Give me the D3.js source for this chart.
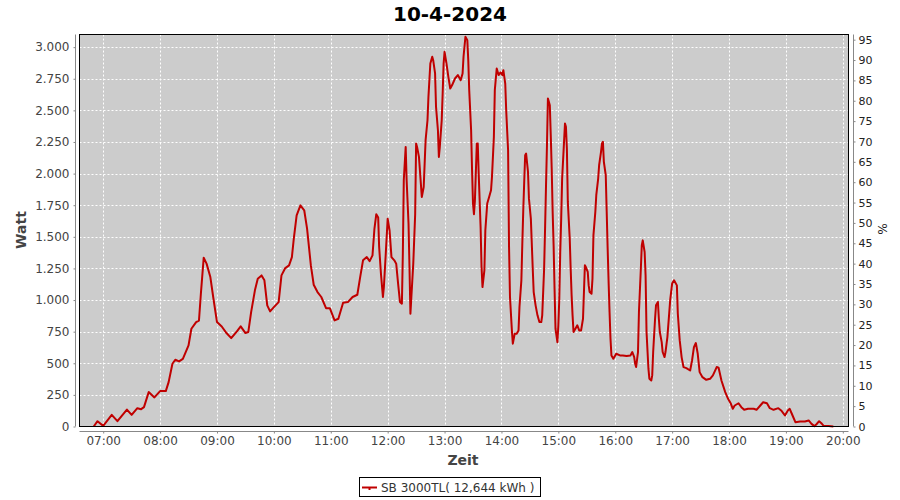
<!DOCTYPE html>
<html><head><meta charset="utf-8">
<script src="https://cdn.jsdelivr.net/npm/d3@7"></script>
<style>body{margin:0;background:#fff}svg{display:block}</style>
</head><body><svg id="c" width="900" height="500"></svg>
<script>
const title = "10-4-2024";
const day = "2024-04-10";
const times = ["06:50","06:54","07:00","07:09","07:15","07:25","07:30","07:36","07:40","07:43","07:48","07:54","08:00","08:06","08:09","08:13","08:16","08:20","08:24","08:30","08:33","08:38","08:41","08:43","08:46","08:49","08:53","08:56","09:00","09:05","09:10","09:15","09:21","09:25","09:30","09:33","09:36","09:40","09:43","09:47","09:50","09:53","09:56","10:00","10:05","10:08","10:12","10:16","10:19","10:21","10:24","10:28","10:32","10:35","10:39","10:42","10:46","10:50","10:55","10:59","11:04","11:08","11:13","11:18","11:23","11:28","11:31","11:34","11:38","11:41","11:44","11:46","11:48","11:50","11:51","11:53","11:55","11:56","11:58","12:00","12:02","12:04","12:07","12:09","12:11","12:13","12:15","12:16","12:17","12:19","12:20","12:22","12:23","12:24","12:25","12:27","12:29","12:30","12:31","12:33","12:35","12:36","12:38","12:39","12:40","12:42","12:43","12:44","12:45","12:47","12:48","12:50","12:51","12:53","12:54","12:55","12:57","12:58","12:59","13:00","13:02","13:04","13:06","13:08","13:11","13:14","13:17","13:19","13:20","13:22","13:24","13:25","13:26","13:28","13:29","13:30","13:31","13:32","13:34","13:35","13:36","13:38","13:39","13:40","13:42","13:43","13:45","13:47","13:49","13:50","13:52","13:53","13:55","13:57","13:59","14:01","14:02","14:04","14:05","14:07","14:08","14:09","14:11","14:12","14:14","14:16","14:18","14:19","14:21","14:22","14:23","14:24","14:25","14:26","14:28","14:29","14:31","14:33","14:34","14:36","14:38","14:40","14:42","14:43","14:45","14:46","14:47","14:48","14:49","14:50","14:51","14:52","14:53","14:54","14:55","14:56","14:57","14:59","15:00","15:01","15:02","15:03","15:04","15:06","15:07","15:08","15:09","15:10","15:12","15:13","15:14","15:15","15:16","15:18","15:20","15:22","15:24","15:26","15:27","15:28","15:29","15:31","15:32","15:33","15:35","15:36","15:37","15:39","15:40","15:42","15:43","15:45","15:46","15:47","15:48","15:50","15:51","15:52","15:53","15:54","15:55","15:56","15:58","16:00","16:01","16:05","16:08","16:12","16:16","16:18","16:20","16:21","16:22","16:24","16:25","16:27","16:28","16:29","16:31","16:32","16:33","16:35","16:36","16:38","16:39","16:40","16:42","16:43","16:45","16:46","16:47","16:49","16:50","16:52","16:53","16:55","16:57","16:58","17:00","17:02","17:05","17:06","17:08","17:10","17:12","17:15","17:19","17:21","17:23","17:25","17:27","17:29","17:32","17:36","17:40","17:43","17:47","17:49","17:52","17:56","17:59","18:02","18:04","18:06","18:10","18:13","18:16","18:20","18:26","18:29","18:33","18:36","18:40","18:43","18:47","18:52","18:55","18:59","19:02","19:04","19:07","19:10","19:15","19:20","19:24","19:27","19:30","19:32","19:35","19:38","19:40","19:45","19:50"];
const watts = [0,42,5,92,42,134,92,145,137,153,272,230,280,280,351,496,528,515,535,641,773,826,838,1050,1335,1288,1182,1024,826,791,739,699,752,792,739,747,905,1077,1169,1195,1156,958,910,944,984,1195,1253,1274,1340,1486,1670,1749,1710,1565,1274,1121,1063,1024,936,936,839,852,979,984,1024,1042,1182,1314,1340,1308,1353,1560,1679,1653,1420,1200,1024,1103,1367,1643,1551,1340,1314,1288,1130,984,971,1367,1947,2211,1947,1604,1261,892,1024,1288,1679,2238,2211,2132,1921,1815,1894,2079,2264,2422,2607,2739,2871,2924,2897,2792,2528,2343,2132,2211,2422,2634,2871,2963,2871,2765,2673,2700,2752,2779,2739,2792,2924,3082,3055,2897,2660,2343,2026,1763,1679,1785,2238,2238,2000,1578,1261,1103,1235,1551,1763,1815,1868,1974,2290,2660,2831,2779,2800,2779,2818,2712,2501,2185,1420,1024,760,655,734,734,760,945,1156,1446,1710,1934,2145,2158,2013,1802,1644,1248,1063,958,879,826,826,879,1248,1565,1908,2224,2594,2568,2541,2304,2040,1697,1433,1090,773,667,800,1011,1380,1644,1961,2251,2396,2370,2198,1776,1486,1248,1037,879,747,773,800,760,760,852,1063,1275,1261,1222,1116,1063,1050,1169,1512,1697,1829,1961,2066,2172,2238,2251,2093,1987,1697,1407,1142,905,694,562,536,562,575,562,562,557,562,589,549,496,470,589,905,1248,1433,1472,1380,1195,747,457,378,364,404,589,852,958,985,852,747,667,589,549,589,707,905,1003,1130,1156,1116,892,681,549,470,462,443,522,628,660,575,430,390,369,377,404,470,465,364,272,219,179,140,166,184,153,132,140,140,132,166,192,184,145,132,145,127,87,127,140,87,34,40,40,48,21,3,16,42,21,3,3,0];
const wattTicks = [0,250,500,750,1000,1250,1500,1750,2000,2250,2500,2750,3000];
const pctTicks = [0,5,10,15,20,25,30,35,40,45,50,55,60,65,70,75,80,85,90,95];
const hourTicks = ["07:00","08:00","09:00","10:00","11:00","12:00","13:00","14:00","15:00","16:00","17:00","18:00","19:00","20:00"];
const xDomain = ["06:35","20:06"];
const wattMax = 3100;
const ratedWatts = 3220;
const yLabel = "Watt", xLabel = "Zeit", y2Label = "%";
const legendLabel = "SB 3000TL( 12,644 kWh )";

const parse = d3.timeParse("%Y-%m-%d %H:%M");
const toDate = t => parse(day + " " + t);
const data = times.map((t, i) => ({t: toDate(t), v: watts[i]}));

const svg = d3.select("#c");
const P = {l: 79.5, r: 848.5, t: 34.5, b: 426.5};
const x = d3.scaleTime().domain(xDomain.map(toDate)).range([P.l, P.r]);
const y = d3.scaleLinear().domain([0, wattMax]).range([P.b, P.t]);
const y2 = d3.scaleLinear().domain([0, wattMax / ratedWatts * 100]).range([P.b, P.t]);
const loc = d3.formatLocale({decimal: ",", thousands: ".", grouping: [3], currency: ["", ""]});
const fmt = loc.format(",d");
const FONT = "'DejaVu Sans', sans-serif";

// title
svg.append("text").attr("x", 450).attr("y", 21).attr("text-anchor", "middle")
  .attr("font-family", FONT).attr("font-weight", "bold").attr("font-size", 20).attr("fill", "#000").text(title);

// plot background
svg.append("rect").attr("x", P.l).attr("y", P.t).attr("width", P.r - P.l).attr("height", P.b - P.t).attr("fill", "#cccccc");

// gridlines
const grid = svg.append("g").attr("stroke", "#fff").attr("stroke-width", 1).attr("stroke-dasharray", "2,2");
hourTicks.forEach(h => {
  const xx = Math.round(x(toDate(h))) + 0.5;
  grid.append("line").attr("x1", xx).attr("x2", xx).attr("y1", P.t).attr("y2", P.b);
});
wattTicks.forEach(w => {
  const yy = Math.round(y(w)) + 0.5;
  grid.append("line").attr("x1", P.l).attr("x2", P.r).attr("y1", yy).attr("y2", yy);
});

// line
const line = d3.line().x(d => x(d.t)).y(d => y(d.v));
svg.append("path").datum(data).attr("d", line).attr("fill", "none")
  .attr("stroke", "#c00000").attr("stroke-width", 2).attr("stroke-linejoin", "round");

// plot border
svg.append("rect").attr("x", P.l).attr("y", P.t).attr("width", P.r - P.l).attr("height", P.b - P.t)
  .attr("fill", "none").attr("stroke", "#000").attr("stroke-width", 1);

// left axis
const gL = svg.append("g").attr("transform", "translate(75.5,0)")
  .call(d3.axisLeft(y).tickValues(wattTicks).tickFormat(fmt).tickSize(2).tickPadding(4));
// bottom axis
const gB = svg.append("g").attr("transform", "translate(0,431.5)")
  .call(d3.axisBottom(x).tickValues(hourTicks.map(toDate)).tickFormat(d3.timeFormat("%H:%M")).tickSize(2).tickPadding(3));
// right axis
const gR = svg.append("g").attr("transform", "translate(853.5,0)")
  .call(d3.axisRight(y2).tickValues(pctTicks).tickFormat(d3.format("d")).tickSize(2).tickPadding(3));

[gL, gB, gR].forEach(g => {
  g.select(".domain").attr("stroke", "#888");
  g.selectAll(".tick line").attr("stroke", "#888");
  g.selectAll(".tick text").attr("font-family", FONT).attr("font-size", 12).attr("fill", "#444");
});
gL.select(".domain").attr("d", `M0,${P.b}V${P.t}`);
gB.select(".domain").attr("d", `M${P.l},0H${P.r}`);
gR.select(".domain").attr("d", `M0,${P.b}V${P.t}`);
gR.selectAll(".tick text").attr("font-size", 11).attr("fill", "#222");

// axis labels
svg.append("text").attr("transform", "translate(26,230) rotate(-90)").attr("text-anchor", "middle")
  .attr("font-family", FONT).attr("font-weight", "bold").attr("font-size", 14).attr("fill", "#444").text(yLabel);
svg.append("text").attr("x", 463).attr("y", 465).attr("text-anchor", "middle")
  .attr("font-family", FONT).attr("font-weight", "bold").attr("font-size", 14).attr("fill", "#444").text(xLabel);
svg.append("text").attr("transform", "translate(878,229) rotate(90)").attr("text-anchor", "middle")
  .attr("font-family", FONT).attr("font-size", 12).attr("fill", "#222").text(y2Label);

// legend
const lg = svg.append("g");
lg.append("rect").attr("x", 359.5).attr("y", 477.5).attr("width", 181).attr("height", 19)
  .attr("fill", "#fff").attr("stroke", "#000");
lg.append("line").attr("x1", 362).attr("x2", 377).attr("y1", 487.5).attr("y2", 487.5)
  .attr("stroke", "#c00000").attr("stroke-width", 2);
lg.append("rect").attr("x", 368.5).attr("y", 487).attr("width", 2).attr("height", 3).attr("fill", "#c00000");
lg.append("text").attr("x", 381).attr("y", 492).attr("font-family", FONT).attr("font-size", 12)
  .attr("fill", "#333").text(legendLabel);
</script></body></html>
